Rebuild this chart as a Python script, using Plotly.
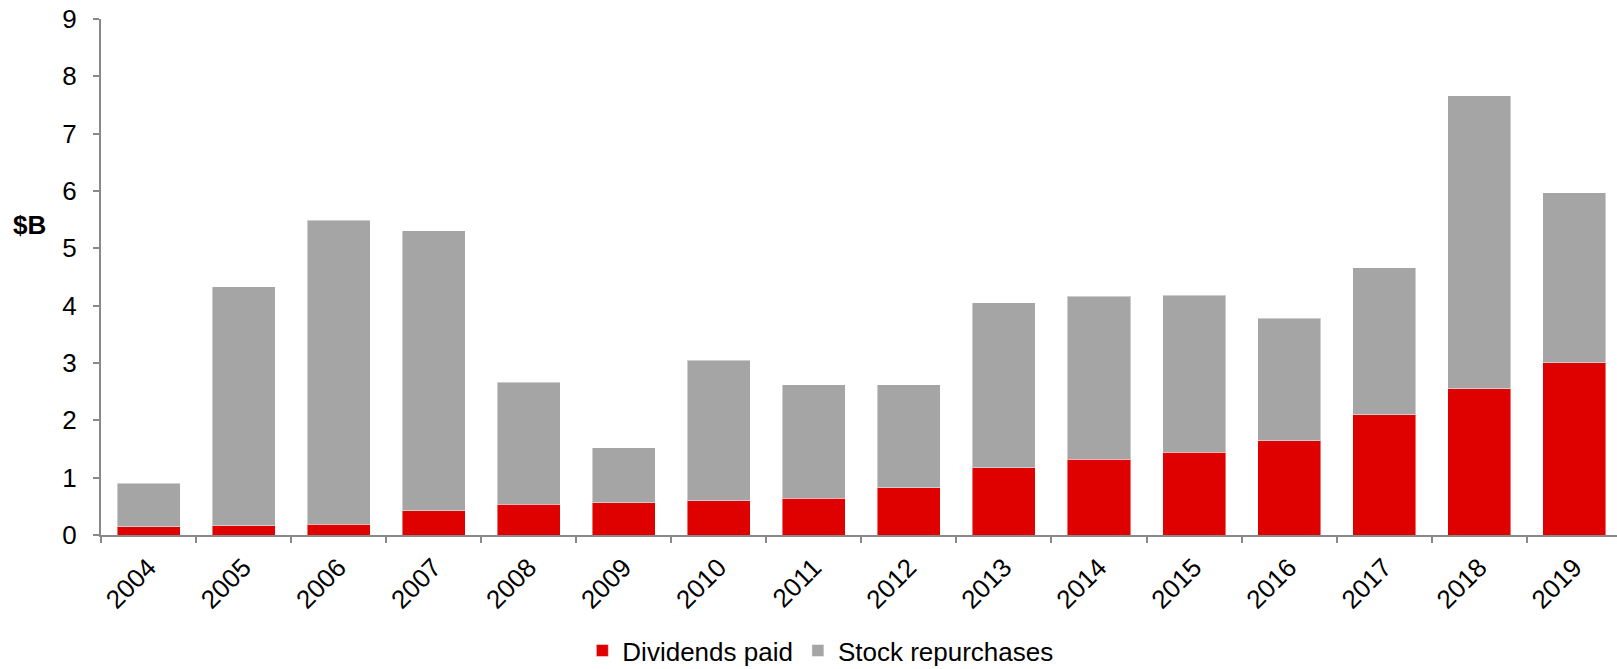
import plotly.graph_objects as go

years = ["2004", "2005", "2006", "2007", "2008", "2009", "2010", "2011",
         "2012", "2013", "2014", "2015", "2016", "2017", "2018", "2019"]
dividends = [0.14, 0.16, 0.19, 0.42, 0.535, 0.565, 0.60, 0.64,
             0.82, 1.175, 1.32, 1.44, 1.645, 2.10, 2.55, 3.005]
repurchases = [0.767, 4.17, 5.30, 4.89, 2.125, 0.958, 2.447, 1.977,
               1.797, 2.872, 2.843, 2.74, 2.135, 2.56, 5.11, 2.965]
y_ticks = [0, 1, 2, 3, 4, 5, 6, 7, 8, 9]

RED = "#DF0000"
GRAY = "#A5A5A5"
AXIS = "#898989"
FONT = "Liberation Sans, Arial, sans-serif"

fig = go.Figure()
fig.add_trace(go.Bar(x=years, y=dividends, name="Dividends paid",
                     marker=dict(color=RED, line=dict(color="rgba(255,255,255,0.45)", width=1))))
fig.add_trace(go.Bar(x=years, y=repurchases, name="Stock repurchases",
                     marker=dict(color=GRAY, line=dict(color="rgba(255,255,255,0.45)", width=1))))

fig.update_layout(
    width=1617, height=669,
    barmode="stack", bargap=0.337,
    paper_bgcolor="white", plot_bgcolor="white",
    margin=dict(l=101, r=0, t=19, b=134, pad=0, autoexpand=False),
    font=dict(family=FONT, size=26, color="#000000"),
    showlegend=True,
    legend=dict(orientation="h", x=0.4745, xanchor="center", y=-0.224, yanchor="middle",
                font=dict(size=26, family=FONT), traceorder="normal",
                itemwidth=30, bgcolor="rgba(0,0,0,0)", borderwidth=0),
    xaxis=dict(type="category", range=[-0.5, 15.45], showgrid=False, automargin=False,
               showline=True, linecolor=AXIS, linewidth=2,
               ticks="outside", tickson="boundaries", ticklen=6, tickwidth=1.5, tickcolor=AXIS,
               tickangle=-45, ticklabelstandoff=5,
               tickfont=dict(size=26, family=FONT, color="#000000")),
    yaxis=dict(range=[0, 9], tickvals=y_ticks, ticktext=[str(v) for v in y_ticks],
               showgrid=False, zeroline=False, automargin=False,
               showline=True, linecolor=AXIS, linewidth=2,
               ticks="outside", ticklen=6, tickwidth=1.5, tickcolor=AXIS,
               ticklabelstandoff=11,
               tickfont=dict(size=26, family=FONT, color="#000000")),
    annotations=[dict(text="<b>$B</b>", xref="paper", yref="y", x=-0.0595, y=5.41,
                      xanchor="left", yanchor="middle", showarrow=False,
                      font=dict(size=26, family=FONT, color="#000000"))],
)

fig.write_html("out.html")
